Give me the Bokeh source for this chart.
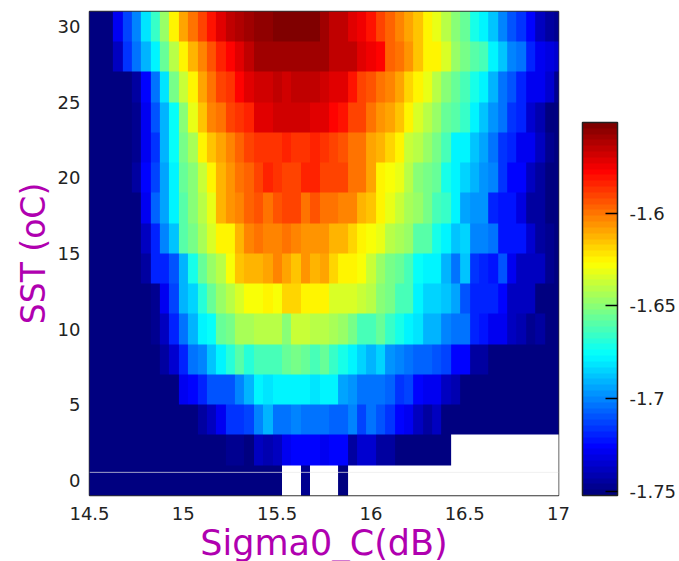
from bokeh.plotting import figure
from bokeh.models import (LinearColorMapper, ColorBar, FixedTicker,
                          Span, Range1d, BoxAnnotation)
from bokeh.embed import file_html
from bokeh.resources import INLINE
import numpy as np

NV = -1.752
NA = float("nan")

sigma0 = [14.5 + 0.05 * k for k in range(51)]
sst = list(range(0, 31, 2))
x_ticks = [14.5, 15, 15.5, 16, 16.5, 17]
y_ticks = [0, 5, 10, 15, 20, 25, 30]
cb_ticks = [-1.75, -1.7, -1.65, -1.6]
v_low, v_high = -1.7523, -1.5512

row_30 = [NV]*3 + [-1.730,-1.713,-1.700,-1.683,-1.666,-1.646,-1.624,-1.609,-1.599,-1.589,-1.581,-1.571,-1.564,-1.561,-1.559,-1.555,-1.555,-1.553,-1.551,-1.551,-1.553,-1.553,-1.560,-1.564,-1.566,-1.571,-1.576,-1.581,-1.589,-1.597,-1.604,-1.609,-1.617,-1.624,-1.632,-1.641,-1.649,-1.657,-1.672,-1.680,-1.687,-1.700,-1.710,-1.715,-1.725,-1.737,-1.746,-1.748]
row_28 = [NV]*3 + [-1.737,-1.715,-1.703,-1.692,-1.680,-1.657,-1.641,-1.624,-1.611,-1.604,-1.594,-1.584,-1.579,-1.571,-1.566,-1.560,-1.558,-1.558,-1.558,-1.558,-1.558,-1.560,-1.560,-1.565,-1.566,-1.566,-1.571,-1.576,-1.579,-1.597,-1.601,-1.606,-1.617,-1.624,-1.624,-1.635,-1.646,-1.652,-1.660,-1.663,-1.680,-1.687,-1.700,-1.703,-1.720,-1.730,-1.732,-1.735]
row_26 = [NV]*5 + [-1.743,-1.725,-1.705,-1.683,-1.652,-1.638,-1.624,-1.609,-1.601,-1.592,-1.587,-1.579,-1.573,-1.569,-1.569,-1.565,-1.570,-1.566,-1.566,-1.566,-1.570,-1.571,-1.573,-1.581,-1.589,-1.594,-1.599,-1.604,-1.609,-1.619,-1.624,-1.632,-1.641,-1.649,-1.657,-1.663,-1.672,-1.680,-1.692,-1.703,-1.710,-1.720,-1.730,-1.730,-1.735,-1.748]
row_24 = [NV]*5 + [-1.748,-1.730,-1.710,-1.692,-1.674,-1.649,-1.632,-1.617,-1.604,-1.599,-1.589,-1.587,-1.584,-1.571,-1.571,-1.569,-1.569,-1.568,-1.568,-1.571,-1.573,-1.579,-1.581,-1.589,-1.592,-1.599,-1.606,-1.609,-1.617,-1.624,-1.635,-1.641,-1.646,-1.657,-1.660,-1.666,-1.680,-1.687,-1.697,-1.703,-1.715,-1.720,-1.735,-1.741,-1.750,-1.752]
row_22 = [NV]*5 + [-1.748,-1.730,-1.715,-1.692,-1.674,-1.652,-1.643,-1.624,-1.617,-1.609,-1.604,-1.597,-1.592,-1.587,-1.587,-1.587,-1.583,-1.587,-1.587,-1.585,-1.587,-1.589,-1.594,-1.599,-1.601,-1.609,-1.611,-1.619,-1.624,-1.638,-1.641,-1.646,-1.654,-1.663,-1.677,-1.680,-1.687,-1.695,-1.703,-1.715,-1.718,-1.730,-1.730,-1.739,-1.748,-1.752]
row_20 = [NV]*5 + [-1.746,-1.725,-1.713,-1.695,-1.677,-1.657,-1.649,-1.638,-1.624,-1.611,-1.606,-1.601,-1.597,-1.589,-1.584,-1.587,-1.589,-1.589,-1.585,-1.585,-1.589,-1.589,-1.592,-1.599,-1.601,-1.609,-1.624,-1.629,-1.632,-1.641,-1.649,-1.652,-1.657,-1.672,-1.680,-1.685,-1.692,-1.697,-1.700,-1.715,-1.725,-1.727,-1.737,-1.746,-1.750,-1.752]
row_18 = [NV]*6 + [-1.730,-1.708,-1.695,-1.680,-1.660,-1.649,-1.641,-1.632,-1.611,-1.606,-1.604,-1.597,-1.594,-1.599,-1.594,-1.592,-1.592,-1.599,-1.594,-1.599,-1.601,-1.604,-1.604,-1.614,-1.617,-1.624,-1.632,-1.638,-1.643,-1.646,-1.652,-1.663,-1.666,-1.680,-1.695,-1.697,-1.697,-1.718,-1.723,-1.723,-1.732,-1.743,-1.743,-1.752,-1.752]
row_16 = [NV]*6 + [-1.739,-1.718,-1.700,-1.687,-1.660,-1.652,-1.643,-1.635,-1.624,-1.624,-1.611,-1.604,-1.601,-1.604,-1.604,-1.601,-1.604,-1.606,-1.606,-1.605,-1.614,-1.614,-1.619,-1.624,-1.629,-1.632,-1.641,-1.643,-1.646,-1.660,-1.660,-1.672,-1.680,-1.687,-1.685,-1.700,-1.700,-1.705,-1.723,-1.723,-1.723,-1.735,-1.746,-1.748,-1.752]
row_14 = [NV]*6 + [-1.743,-1.720,-1.720,-1.710,-1.690,-1.672,-1.657,-1.646,-1.641,-1.627,-1.617,-1.614,-1.614,-1.609,-1.604,-1.609,-1.617,-1.606,-1.614,-1.609,-1.619,-1.624,-1.624,-1.627,-1.638,-1.646,-1.654,-1.657,-1.663,-1.674,-1.680,-1.680,-1.690,-1.703,-1.687,-1.715,-1.718,-1.723,-1.710,-1.730,-1.737,-1.737,-1.739,-1.748,-1.750]
row_12 = [NV]*7 + [-1.748,-1.730,-1.713,-1.692,-1.685,-1.669,-1.657,-1.646,-1.641,-1.635,-1.629,-1.629,-1.624,-1.627,-1.619,-1.619,-1.624,-1.624,-1.624,-1.635,-1.635,-1.635,-1.638,-1.641,-1.649,-1.652,-1.663,-1.663,-1.680,-1.685,-1.685,-1.687,-1.695,-1.710,-1.720,-1.718,-1.720,-1.725,-1.739,-1.737,-1.737,-1.750,-1.752,-1.752]
row_10 = [NV]*7 + [-1.748,-1.739,-1.720,-1.703,-1.692,-1.680,-1.674,-1.657,-1.652,-1.643,-1.643,-1.641,-1.641,-1.641,-1.649,-1.638,-1.638,-1.641,-1.641,-1.643,-1.646,-1.652,-1.663,-1.663,-1.657,-1.666,-1.672,-1.680,-1.683,-1.690,-1.692,-1.700,-1.705,-1.705,-1.720,-1.723,-1.730,-1.730,-1.739,-1.741,-1.748,-1.743,-1.750,-1.752]
row_08 = [NV]*8 + [-1.743,-1.735,-1.720,-1.705,-1.700,-1.687,-1.680,-1.669,-1.660,-1.669,-1.663,-1.663,-1.663,-1.657,-1.652,-1.657,-1.663,-1.657,-1.666,-1.672,-1.680,-1.685,-1.692,-1.685,-1.697,-1.700,-1.705,-1.708,-1.708,-1.710,-1.713,-1.725,-1.725,-1.743,-1.746,-1.750] + [NV]*7
row_06 = [NV]*10 + [-1.730,-1.725,-1.720,-1.710,-1.710,-1.710,-1.700,-1.690,-1.680,-1.682,-1.677,-1.677,-1.680,-1.680,-1.682,-1.680,-1.680,-1.695,-1.697,-1.703,-1.703,-1.703,-1.708,-1.715,-1.713,-1.727,-1.730,-1.730,-1.739,-1.741] + [NV]*11
row_04 = [NV]*12 + [-1.746,-1.739,-1.730,-1.715,-1.715,-1.713,-1.700,-1.692,-1.703,-1.703,-1.700,-1.703,-1.705,-1.705,-1.708,-1.708,-1.700,-1.713,-1.705,-1.710,-1.715,-1.727,-1.730,-1.739,-1.743,-1.737] + [NV]*13
row_02 = [NV]*15 + [-1.748,-1.748,-1.750,-1.737,-1.741,-1.739,-1.730,-1.725,-1.727,-1.727,-1.730,-1.725,-1.725,-1.743,-1.735,-1.735,-1.743,-1.746] + [NV]*6 + [NA]*12
row_00 = [NV]*21 + [NA]*2 + [-1.748] + [NA]*3 + [-1.750] + [NA]*23

rows = [row_00, row_02, row_04, row_06, row_08, row_10, row_12, row_14,
        row_16, row_18, row_20, row_22, row_24, row_26, row_28, row_30]


def jet(t):
    def c(a):
        return int(round(255 * max(0.0, min(1.0, a))))
    r = 1.5 - abs(4 * t - 3)
    g = 1.5 - abs(4 * t - 2)
    b = 1.5 - abs(4 * t - 1)
    return "#%02x%02x%02x" % (c(r), c(g), c(b))


palette = [jet(i / 63) for i in range(64)]
mapper = LinearColorMapper(palette=palette, low=v_low, high=v_high, nan_color="white")

grid = np.array(rows, dtype=float)
dx = sigma0[1] - sigma0[0]
dy = sst[1] - sst[0]

p = figure(width=679, height=561, frame_width=469, frame_height=484,
           x_range=Range1d(14.5, 17), y_range=Range1d(-1, 31),
           output_backend="svg", toolbar_location=None,
           min_border_left=89, min_border_top=11, min_border_bottom=66, min_border_right=121)
p.image(image=[grid], x=sigma0[0] - dx / 2, y=sst[0] - dy / 2,
        dw=dx * len(sigma0), dh=dy * len(sst), color_mapper=mapper)

p.grid.visible = False
p.outline_line_color = "#333333"
p.outline_line_width = 1.5
p.background_fill_color = "white"
p.border_fill_color = "white"

LABEL = "#b000b0"
TICK = "#222222"
for ax in (p.xaxis[0], p.yaxis[0]):
    ax.axis_line_color = None
    ax.major_tick_line_color = None
    ax.minor_tick_line_color = None
    ax.major_label_text_font = "DejaVu Sans"
    ax.major_label_text_font_size = "18px"
    ax.major_label_text_color = TICK
    ax.axis_label_text_font = "DejaVu Sans"
    ax.axis_label_text_font_style = "normal"
    ax.axis_label_text_color = LABEL

p.xaxis[0].ticker = FixedTicker(ticks=x_ticks)
p.xaxis[0].major_label_overrides = {14.5: "14.5", 15: "15", 15.5: "15.5", 16: "16", 16.5: "16.5", 17: "17"}
p.xaxis[0].axis_label = "Sigma0_C(dB)"
p.xaxis[0].axis_label_text_font_size = "35px"
p.xaxis[0].major_label_standoff = 5
p.xaxis[0].axis_label_standoff = 0
p.yaxis[0].ticker = FixedTicker(ticks=y_ticks)
p.yaxis[0].axis_label = "SST (oC)"
p.yaxis[0].axis_label_text_font_size = "33px"
p.yaxis[0].major_label_standoff = 3
p.yaxis[0].axis_label_standoff = 2

# stray hairline that crosses the reference image
p.add_layout(Span(location=0.53, dimension="width", line_color="#e8e8e8", line_width=1, line_alpha=0.7))

cb = ColorBar(color_mapper=mapper, ticker=FixedTicker(ticks=cb_ticks),
              width=35, height=373, location=(24, 0),
              major_label_overrides={-1.75: "-1.75", -1.7: "-1.7", -1.65: "-1.65", -1.6: "-1.6"},
              major_label_text_font="DejaVu Sans", major_label_text_font_size="18px",
              major_label_text_color=TICK, label_standoff=12,
              major_tick_line_color="black", major_tick_line_width=1.5, major_tick_in=12, major_tick_out=0,
              minor_tick_line_color=None,
              bar_line_color="#222222", bar_line_width=1.5,
              padding=0, margin=0, border_line_color=None, background_fill_alpha=0)
p.add_layout(cb, "right")

# the colour bar's ticks also enter from its left side; same hairline crosses it
BAR_TOP, BAR_H, BAR_L, BAR_R = 122, 373, 582, 617
for v in cb_ticks:
    yy = BAR_TOP + (v_high - v) / (v_high - v_low) * BAR_H
    p.add_layout(BoxAnnotation(left=BAR_L, right=BAR_L + 12, top=yy - 0.75, bottom=yy + 0.75,
                               left_units="canvas", right_units="canvas",
                               top_units="canvas", bottom_units="canvas",
                               fill_color="black", fill_alpha=1, line_color=None))
p.add_layout(BoxAnnotation(left=BAR_L, right=BAR_R, top=471.5, bottom=472.5,
                           left_units="canvas", right_units="canvas",
                           top_units="canvas", bottom_units="canvas",
                           fill_color="#e8e8e8", fill_alpha=0.7, line_color=None))

open("out.html", "w").write(file_html(p, INLINE))
